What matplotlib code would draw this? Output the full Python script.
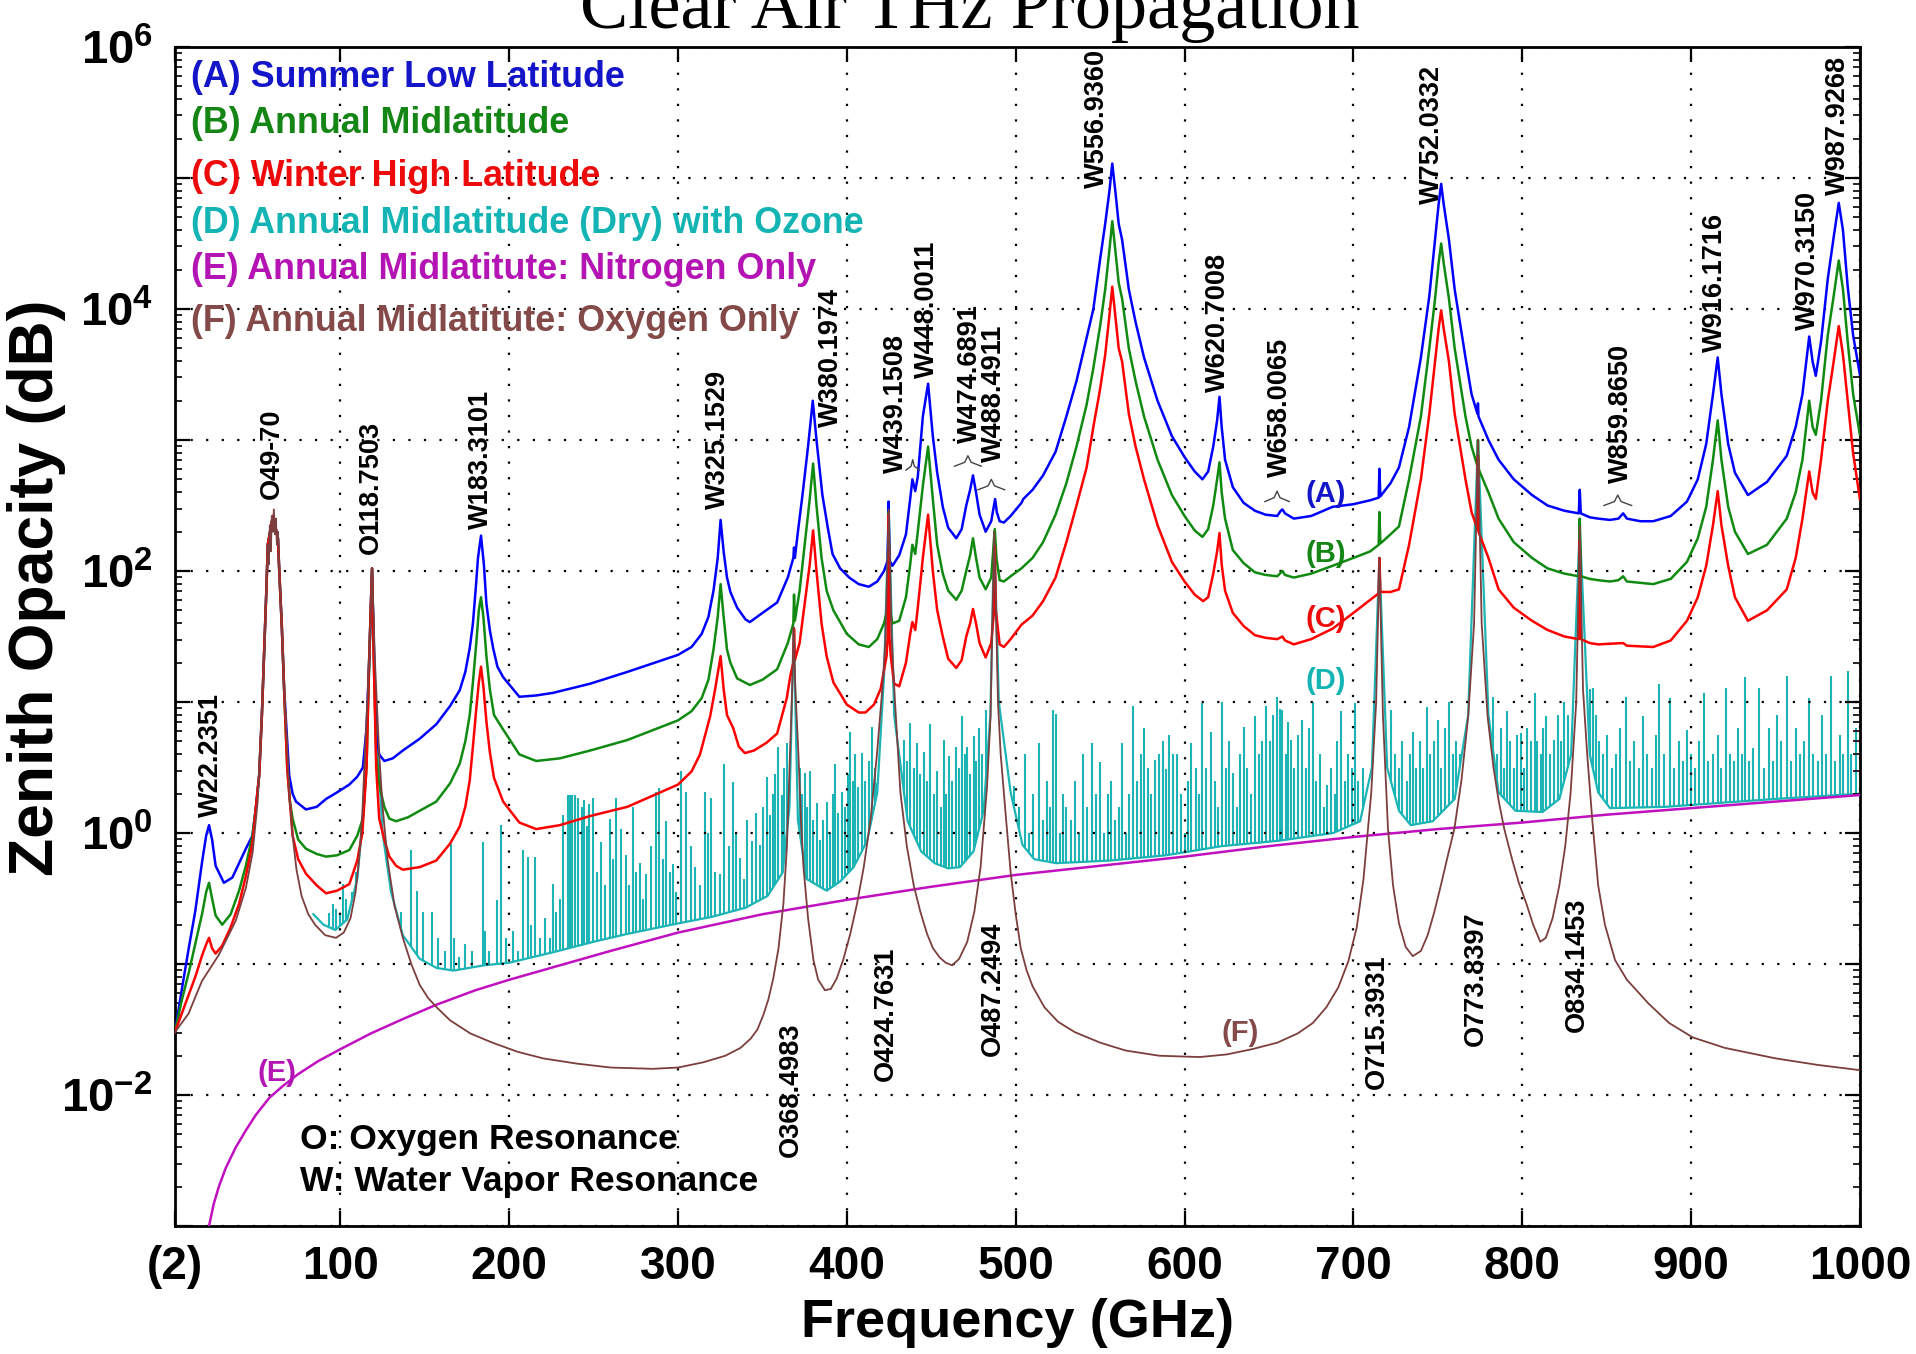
import numpy as np
import matplotlib
matplotlib.use('Agg')
import matplotlib.pyplot as plt
from matplotlib.ticker import FixedLocator, LogLocator, NullFormatter, FuncFormatter

plt.rcParams['font.family'] = ['Liberation Sans', 'DejaVu Sans']
plt.rcParams['mathtext.fontset'] = 'custom'
plt.rcParams['mathtext.rm'] = 'Liberation Sans:bold'
plt.rcParams['mathtext.bf'] = 'Liberation Sans:bold'
plt.rcParams['mathtext.it'] = 'Liberation Sans:bold'

# (frequency GHz, log10 zenith opacity dB)
curve_a = [(2,-1.52),(6,-1.2),(10.3,-0.87),(14,-0.6),(18.2,-0.21),(20.5,-0.02),(22.2,0.06),(24,-0.05),(26.1,-0.25),(31,-0.38),(36,-0.34),(40,-0.23),(44,-0.12),(47.9,-0.02),(50,0.2),(51.9,0.44),(53.5,0.9),(54.9,1.41),(56.2,1.87),(57,2.2),(60,2.42),(63,2.25),(63.8,2.0),(65.3,1.58),(66.7,1.09),(68.5,0.7),(69.7,0.44),(71.7,0.30),(73.7,0.24),(79.6,0.18),(86,0.2),(91.5,0.26),(98,0.31),(105.3,0.37),(110,0.43),(113.3,0.5),(115.5,0.8),(117,1.3),(118.75,2.02),(120,1.3),(121.2,0.76),(123,0.6),(126,0.55),(131,0.57),(137,0.63),(147,0.72),(156.8,0.83),(165,0.97),(170.7,1.09),(174,1.23),(176.6,1.41),(178.5,1.6),(180.2,1.87),(181.5,2.1),(183.3,2.27),(185,2.05),(186.5,1.75),(188.5,1.55),(190.5,1.41),(193,1.27),(196.4,1.19),(206,1.04),(216,1.05),(226,1.07),(248,1.14),(270,1.23),(300,1.36),(308,1.42),(314,1.52),(318,1.65),(321,1.85),(323.5,2.1),(325.2,2.39),(327,2.15),(329,1.95),(331,1.84),(335,1.72),(340,1.63),(342.5,1.61),(350,1.68),(358.7,1.76),(365,1.95),(368.3,2.1),(368.7,2.18),(369.2,2.1),(371,2.3),(373.7,2.58),(377,2.95),(379.8,3.3),(382,3.0),(385.5,2.58),(388.7,2.33),(391.5,2.13),(396,2.02),(401.4,1.95),(407,1.9),(413,1.88),(418,1.92),(422,2.0),(424.2,2.08),(424.7,2.53),(425.2,2.08),(427,2.04),(431,2.12),(435,2.28),(437.5,2.55),(438.8,2.7),(440.5,2.61),(442,2.72),(445,3.18),(448.1,3.43),(450.9,3.03),(453.5,2.75),(456.8,2.49),(460,2.33),(464.8,2.25),(468,2.32),(470.7,2.5),(473,2.62),(474.7,2.73),(476.5,2.6),(478.6,2.43),(482.2,2.3),(485.5,2.38),(487.8,2.55),(488.8,2.45),(490.5,2.38),(493,2.37),(497,2.42),(503.4,2.52),(504.5,2.55),(510,2.62),(516.2,2.73),(523.6,2.91),(530,3.18),(536,3.45),(542,3.78),(546,4.0),(550,4.38),(553,4.65),(555.5,4.9),(557.2,5.11),(559,4.9),(561,4.65),(563,4.53),(567,4.15),(571,3.9),(576,3.63),(584,3.3),(592.5,3.03),(600,2.87),(606,2.76),(610.6,2.7),(614,2.76),(617,2.95),(619.3,3.15),(620.7,3.33),(622,3.1),(624,2.85),(628.6,2.64),(635,2.52),(641.7,2.46),(648,2.43),(654.9,2.42),(657,2.46),(658,2.47),(659.5,2.44),(664.7,2.4),(675,2.42),(687.7,2.49),(700,2.51),(710,2.54),(715,2.56),(715.4,2.78),(716,2.57),(722,2.67),(727,2.79),(733,3.1),(740,3.63),(745,4.1),(748.4,4.53),(750.5,4.8),(752,4.955),(753.5,4.8),(756.6,4.53),(760,4.15),(766.4,3.63),(770,3.35),(773.5,3.2),(773.8,3.28),(774.1,3.18),(780,3.0),(786,2.85),(795,2.7),(805.8,2.58),(815,2.5),(825,2.46),(833.5,2.44),(834.1,2.62),(834.7,2.44),(840,2.41),(845,2.4),(852,2.39),(857,2.4),(859.8,2.44),(862,2.4),(870,2.38),(877.6,2.38),(888,2.42),(897.6,2.53),(904,2.7),(909,2.97),(913,3.35),(915.8,3.63),(918,3.35),(922,2.97),(926,2.75),(933.7,2.58),(945,2.68),(956.7,2.88),(962,3.1),(966,3.35),(970,3.79),(972,3.6),(973.9,3.49),(977,3.75),(981,4.23),(984.5,4.55),(987.5,4.81),(990,4.6),(992.8,4.17),(996,3.8),(1000,3.5)]

curve_b = [(2,-1.52),(6,-1.28),(10.3,-1.06),(14,-0.85),(18.2,-0.61),(20.5,-0.45),(22.2,-0.38),(24,-0.5),(26.1,-0.63),(30,-0.7),(35,-0.62),(40,-0.44),(44,-0.25),(47.9,-0.02),(50,0.2),(51.9,0.44),(53.5,0.9),(54.9,1.41),(56.2,1.87),(57,2.2),(60,2.42),(63,2.25),(63.8,2.0),(65.3,1.58),(66.7,1.09),(68.5,0.5),(70,0.25),(71.7,0.11),(75,-0.05),(79.6,-0.12),(86,-0.16),(91.5,-0.18),(98,-0.17),(105.3,-0.13),(110,-0.02),(113.3,0.11),(115.5,0.5),(117,1.3),(118.75,2.02),(120,1.2),(121.2,0.6),(123,0.37),(126,0.2),(129,0.11),(133,0.09),(140,0.12),(156.8,0.24),(165,0.38),(170.7,0.53),(174,0.7),(176.6,0.9),(178.5,1.15),(180.5,1.45),(182,1.7),(183.3,1.8),(184.7,1.65),(186.5,1.35),(188.5,1.1),(191,0.9),(196.4,0.79),(206,0.6),(216,0.55),(230,0.57),(248,0.63),(270,0.71),(300,0.86),(308,0.93),(314,1.03),(318,1.17),(321,1.4),(323.5,1.65),(325.2,1.9),(327,1.65),(329,1.4),(331,1.3),(335,1.18),(342.5,1.13),(350,1.17),(358.7,1.25),(365,1.45),(368.3,1.6),(368.7,1.82),(369.2,1.62),(372,1.85),(375,2.2),(378,2.55),(380,2.82),(382,2.5),(385,2.1),(388,1.85),(392,1.7),(400,1.52),(407,1.44),(413,1.42),(418,1.48),(422,1.6),(424.2,1.72),(424.7,2.45),(425.2,1.72),(427,1.6),(431,1.62),(435,1.8),(437.5,2.05),(438.8,2.2),(440.5,2.13),(442,2.3),(445,2.65),(448.1,2.95),(450.9,2.55),(453.5,2.2),(456.8,1.98),(460,1.85),(464.8,1.78),(468,1.85),(470.7,2.0),(473,2.12),(474.7,2.25),(476.5,2.1),(478.6,1.95),(482.2,1.86),(485.5,1.95),(487.6,2.32),(488.6,2.1),(490.5,1.93),(493,1.92),(497,1.96),(503.4,2.02),(510,2.1),(516.2,2.22),(523.6,2.43),(530,2.67),(536,2.95),(542,3.27),(546,3.55),(550,3.87),(553,4.15),(555.5,4.45),(557.2,4.67),(559,4.45),(561,4.2),(563,4.08),(567,3.7),(571,3.45),(576,3.18),(584,2.85),(592.5,2.58),(600,2.42),(606,2.31),(610.6,2.26),(614,2.32),(617,2.5),(619.3,2.7),(620.7,2.83),(622,2.6),(624,2.4),(628.6,2.16),(635,2.06),(641.7,1.99),(648,1.97),(654.9,1.96),(658,2.0),(659.5,1.97),(664.7,1.95),(675,1.98),(687.7,2.04),(700,2.1),(710,2.15),(715,2.2),(715.4,2.45),(716,2.21),(722,2.28),(727,2.34),(733,2.7),(740,3.18),(745,3.7),(748.4,4.08),(750.5,4.35),(752,4.5),(753.5,4.35),(756.6,4.08),(760,3.7),(766.4,3.18),(770,2.95),(773.5,2.8),(773.8,3.0),(774.1,2.78),(780,2.6),(786,2.4),(795,2.22),(805.8,2.1),(815,2.02),(825,1.98),(833.5,1.96),(834.1,2.4),(834.7,1.96),(840,1.94),(845,1.93),(852,1.92),(857,1.93),(859.8,1.96),(862,1.92),(877.6,1.9),(888,1.94),(897.6,2.07),(904,2.25),(909,2.49),(913,2.85),(915.8,3.15),(918,2.85),(922,2.49),(926,2.3),(933.7,2.13),(945,2.2),(956.7,2.4),(962,2.6),(966,2.85),(970,3.3),(972,3.1),(973.9,3.04),(977,3.3),(981,3.8),(984.5,4.1),(987.5,4.37),(990,4.15),(992.8,3.75),(996,3.35),(1000,3.04)]

curve_c = [(2,-1.52),(6,-1.38),(10.3,-1.23),(14,-1.1),(18.2,-0.93),(20.5,-0.85),(22.2,-0.8),(24,-0.88),(26.1,-0.92),(30,-0.86),(35,-0.72),(40,-0.54),(44,-0.33),(47.9,-0.08),(50,0.2),(51.9,0.44),(53.5,0.9),(54.9,1.41),(56.2,1.87),(57,2.2),(60,2.42),(63,2.25),(63.8,2.0),(65.3,1.58),(66.7,1.09),(68.5,0.5),(71.7,-0.02),(75,-0.2),(79.6,-0.31),(86,-0.4),(91.5,-0.46),(98,-0.44),(105.3,-0.39),(110,-0.21),(113,0.0),(115.5,0.5),(117,1.3),(118.75,2.02),(120,1.2),(121.2,0.5),(123,0.11),(126,-0.05),(129,-0.18),(133,-0.25),(137,-0.28),(147,-0.26),(156.8,-0.21),(165,-0.08),(170.7,0.05),(174,0.2),(176.6,0.4),(178.5,0.66),(180.5,0.95),(182,1.15),(183.3,1.27),(184.7,1.12),(186.5,0.85),(188.5,0.62),(191,0.42),(196.4,0.24),(206,0.08),(216,0.03),(230,0.06),(248,0.13),(270,0.2),(300,0.37),(308,0.47),(313,0.6),(319,0.89),(322,1.1),(325.2,1.35),(327,1.1),(329,0.9),(332.7,0.8),(336,0.66),(339.6,0.61),(345,0.63),(352.5,0.69),(358.7,0.76),(364.4,1.03),(366.5,1.2),(368.3,1.3),(368.7,1.56),(369.2,1.32),(372,1.45),(375,1.75),(378,2.05),(380,2.31),(382,2.0),(385,1.6),(388,1.35),(392,1.15),(400,0.98),(407,0.92),(411,0.92),(416,0.98),(420,1.1),(423.5,1.35),(424.2,1.5),(424.7,2.43),(425.2,1.5),(426,1.35),(428,1.14),(431,1.12),(435,1.3),(437.5,1.52),(438.8,1.61),(440.5,1.55),(442,1.72),(445,2.1),(448.1,2.43),(450.9,2.0),(453.5,1.7),(456.8,1.5),(460,1.33),(464.8,1.26),(468,1.32),(470.7,1.5),(473,1.6),(474.7,1.71),(476.5,1.6),(478.6,1.45),(482.2,1.34),(485.5,1.45),(487.2,1.7),(487.6,2.19),(488.2,1.7),(490.5,1.44),(493,1.42),(497,1.48),(503.4,1.59),(510,1.66),(516.2,1.77),(523.6,1.95),(530,2.22),(536,2.5),(542,2.79),(546,3.1),(550,3.39),(553,3.65),(555.5,3.95),(557.2,4.17),(559,3.95),(561,3.7),(563,3.6),(567,3.2),(571,2.95),(576,2.7),(584,2.35),(592.5,2.07),(600,1.92),(606,1.82),(611,1.77),(614,1.8),(617,1.98),(619.3,2.15),(620.7,2.29),(622,2.05),(624,1.85),(628.6,1.68),(635,1.58),(641.7,1.51),(648,1.49),(654.9,1.48),(658,1.5),(659.5,1.47),(664.7,1.44),(675,1.48),(687.7,1.56),(700,1.68),(710,1.78),(715,1.83),(715.4,2.1),(716,1.84),(722,1.84),(727,1.86),(733,2.2),(740,2.7),(745,3.2),(748.4,3.6),(750.5,3.85),(752,3.99),(753.5,3.85),(756.6,3.6),(760,3.2),(766.4,2.7),(770,2.45),(773.5,2.32),(773.8,2.88),(774.1,2.3),(780,2.1),(786,1.86),(795,1.72),(805.8,1.62),(815,1.55),(825,1.5),(833.5,1.48),(834.1,2.23),(834.7,1.48),(840,1.45),(845,1.44),(859.8,1.45),(862,1.43),(877.6,1.42),(888,1.47),(897.6,1.62),(904,1.8),(909,2.04),(913,2.35),(915.8,2.61),(918,2.35),(922,2.04),(926,1.8),(933.7,1.62),(945,1.7),(956.7,1.86),(962,2.1),(966,2.4),(970,2.76),(972,2.6),(973.9,2.55),(977,2.85),(981,3.3),(984.5,3.6),(987.5,3.87),(990,3.65),(992.8,3.3),(996,2.9),(1000,2.55)]

# (D) dry continuum floor and its line tops
d_floor = [(84,-0.62),(90,-0.7),(97,-0.74),(104,-0.66),(110,-0.35),(114,0.2),(117,1.2),(118.75,2.0),(121,0.9),(125,0.0),(130,-0.45),(137,-0.78),(147,-0.96),(157,-1.03),(167,-1.05),(185,-1.01),(200,-0.99),(226,-0.91),(250,-0.83),(270,-0.77),(300,-0.69),(320,-0.64),(340,-0.57),(353,-0.48),(362,-0.3),(366,0.2),(368.5,1.57),(371,0.1),(376,-0.35),(388,-0.44),(396,-0.37),(404,-0.26),(412,-0.06),(418,0.31),(422,1.2),(424.8,2.47),(428,0.9),(436,0.09),(444,-0.14),(452,-0.23),(460,-0.27),(467,-0.26),(475,-0.14),(481,0.17),(485,0.9),(487.25,2.3),(490,1.0),(497,0.31),(504,-0.09),(511,-0.2),(524,-0.23),(556,-0.21),(589,-0.17),(622,-0.1),(655,-0.06),(688,0.0),(704,0.09),(711,0.5),(715.4,2.1),(720,0.5),(727,0.17),(734,0.06),(747,0.09),(760,0.26),(768,0.9),(773.8,3.0),(780,0.9),(786,0.31),(796,0.17),(812,0.16),(822,0.26),(829,0.6),(834.1,2.34),(840,0.6),(845,0.31),(852,0.19),(885,0.2),(917,0.23),(950,0.26),(1000,0.3)]

d_lines = [(93.5,-0.61),(95.4,-0.54),(97.4,-0.58),(99.5,-0.62),(101.4,-0.39),(103.4,-0.5),(107,-0.45),(109,-0.3),(111.3,-0.12),
    (136,-0.6),(142,-0.13),(145.3,-0.44),(149,-0.6),(154,-0.6),(158,-0.8),(162,-0.9),(165.7,-0.08),(167,-0.8),(170,-0.95),(174,-0.85),(178,-0.9),(184.2,-0.07),(185.5,-0.75),(188,-0.9),(192.5,-0.51),(195.4,0.06),(198,-0.8),(202.4,-0.75),(205,-0.9),(208.3,-0.13),(211.3,-0.18),(213,-0.7),(215.2,-0.18),(218,-0.8),(221,-0.65),(224,-0.8),(226,-0.39),(228,-0.6),(230,-0.5),(232,0.14),(235,0.29),(236.2,0.29),(237.4,0.29),(239,0.29),(241,0.27),(243,0.2),(244.5,0.25),(246,0.05),(247.5,0.22),(249.5,0.27),
    (252,-0.3),(254.5,-0.07),(257,-0.4),(259.4,0.11),(261.5,-0.2),(263.4,0.27),(266.3,0.03),(269.3,-0.17),(271,-0.4),(273.3,0.2),(275,-0.3),(277.2,-0.23),(279,-0.5),(281.2,-0.31),(284,-0.1),(287.1,0.31),(289,0.34),(291,-0.2),(293,0.09),(295,-0.3),(297,-0.24),(299,-0.45),(302,0.47),(305,0.31),(307.5,-0.1),(310,-0.26),(313,-0.4),(315.8,0.31),(317.5,0.0),(319.8,0.27),(322,-0.3),(324.8,-0.31),(327.1,0.53),(330,-0.1),(332.7,0.39),(334.5,0.0),(336.6,-0.19),(339,-0.35),(341,0.1),(343.6,-0.06),(346,0.15),(348.5,-0.09),(350.5,0.2),(352.5,0.43),(354.5,0.14),(356,0.3),(357.5,0.45),(359.4,0.66),(361.4,0.29),(362.5,0.5),(364.4,0.69),(366.3,0.54),
    (372.3,0.5),(373.5,0.3),(375.2,0.46),(376.5,0.2),(378.2,0.47),(380,0.1),(382.2,0.23),(384,-0.05),(386,0.1),(388.1,0.24),(390,0.0),(391.5,0.3),(393,0.53),(395,0.15),(397,0.31),(399,0.2),(400.5,0.45),(402,0.77),(403.5,0.4),(405,0.6),(406.5,0.35),(409,0.61),(411,0.4),(413,0.55),(414.9,0.81),(416.5,0.5),(417.8,0.38),(419.5,0.6),(421,0.75),
    (429.7,0.78),(431.5,0.5),(433.7,0.71),(435.5,0.55),(437.6,0.84),(439.5,0.5),(441.6,0.69),(443.5,0.45),(445.5,0.62),(447.5,0.4),(449.5,0.83),(451.5,0.3),(453.5,0.47),(455.5,0.2),(457.4,0.71),(459,0.3),(460.4,0.59),(462.5,0.4),(464.4,0.66),(466.3,0.5),(468.3,0.89),(470,0.6),(471.3,0.66),(473,0.45),(475.2,0.74),(476.7,0.55),(478.2,0.8),(480,0.6),(482.2,0.94),(484,0.7),
    (494,0.6),(496,0.4),(499,0.36),(502,0.2),(505.6,0.6),(508,0.0),(510.5,0.3),(513.8,0.69),(516,0.1),(518.5,0.4),(520.5,0.2),(522,0.94),(523.6,0.91),(526,0.0),(528,0.3),(530,0.2),(532.5,0.1),(535,0.4),(537.5,0.0),(540,0.6),(542.5,0.2),(545,0.69),(547.5,0.3),(550,0.54),(552.5,0.0),(554.5,0.3),(556.4,0.4),(559,0.1),(561,0.2),(563,0.69),(565.5,0.0),(567,0.3),(569.6,0.97),(572,0.4),(574,0.6),(576,0.8),(578.5,0.5),(580,0.3),(582.7,0.56),(585,0.6),(587,0.7),(589.2,0.49),(591,0.75),(593,0.6),(595.8,0.6),(598,0.3),(600.5,0.0),(602,0.4),(604,0.69),(606.5,0.5),(608.5,0.3),(610.6,0.99),(613,0.5),(615.5,0.77),(618,0.4),(620,0.2),(622,1.0),(624.5,0.5),(626.5,0.7),(628.6,0.46),(631,0.2),(633,0.6),(635,0.81),(637,0.5),(639.5,0.3),(641.7,0.89),(644,0.6),(646,0.7),(648.3,0.97),(650.5,0.7),(652.5,0.9),(654.9,1.04),(656.5,0.95),(658,0.94),(660,0.6),(661.5,0.85),(663,0.71),(665,0.5),(667,0.75),(669.6,0.86),(672,0.5),(674,0.8),(676,1.0),(678,0.4),(680.5,0.6),(682.5,0.2),(684.4,0.37),(687,0.5),(689,0.3),(690.5,0.7),(692.6,0.93),(695,0.4),(697,0.6),(699,0.5),(700.8,0.99),(703,0.4),(706,0.5),
    (722,0.94),(724.5,0.6),(727,0.5),(729,0.7),(731.5,0.4),(733.5,0.6),(735.2,0.77),(737,0.5),(739.5,0.7),(741.5,0.5),(743.4,0.96),(745.5,0.6),(748,0.7),(750,0.86),(752,0.5),(754.5,0.8),(756.6,1.0),(759,0.6),(761,0.7),(763,0.6),(765,0.5),
    (781,0.7),(782.8,1.04),(785,0.6),(787.5,0.8),(789,0.5),(791,0.93),(793,0.7),(795,0.5),(797,0.75),(799,0.76),(801,0.5),(803,0.8),(805.5,0.7),(807.4,1.07),(809,0.7),(811,0.6),(812.5,0.8),(814,0.89),(816.5,0.6),(819,0.71),(821,0.9),(823,0.7),(825,1.0),(827,0.9),
    (836.5,1.1),(837.5,1.12),(838.6,1.14),(840,1.1),(841.9,1.11),(843.5,0.9),(845.5,0.7),(848,0.6),(850,0.75),(853,0.5),(855.5,0.6),(858,0.8),(861.5,1.04),(864,0.55),(866.5,0.7),(869,0.5),(871.4,0.89),(874,0.6),(877,0.5),(879,0.75),(881.2,1.14),(884,0.6),(887.8,1.03),(890,0.5),(893,0.7),(895,0.55),(897.6,0.79),(900,0.6),(902.5,0.5),(905,0.7),(907.5,1.07),(910,0.55),(913,0.6),(916,0.75),(918,0.5),(920.6,1.11),(923,0.6),(925.5,0.55),(928,0.8),(930,0.6),(932,1.19),(934.5,0.55),(937,0.65),(940.3,1.11),(943,0.5),(946,0.8),(948.5,0.55),(951,0.9),(953,0.7),(956.7,1.2),(959,0.55),(962,0.8),(964.5,0.6),(967,0.7),(969.8,1.03),(972,0.6),(975,0.55),(977.5,0.9),(980,0.6),(983,1.2),(985,0.55),(988,0.75),(990,0.6),(992.8,1.24),(995,0.6),(998,0.8)]

curve_e = [(22.2,-3.0),(25,-2.83),(28,-2.7),(32,-2.56),(38,-2.4),(44,-2.27),(50,-2.15),(58,-2.02),(66,-1.93),(75,-1.84),(87,-1.74),(100,-1.65),(118,-1.53),(137,-1.42),(157,-1.31),(180,-1.2),(200,-1.12),(230,-1.01),(260,-0.9),(300,-0.76),(350,-0.62),(400,-0.51),(450,-0.41),(500,-0.32),(550,-0.25),(600,-0.18),(650,-0.1),(700,-0.03),(750,0.03),(800,0.08),(850,0.14),(900,0.19),(950,0.24),(1000,0.29)]

curve_f = [(2,-1.52),(10,-1.38),(18,-1.13),(28,-0.93),(38,-0.67),(44,-0.42),(48,-0.15),(51,0.24),(53,0.76),(55,1.41),(56.2,1.87),(57,2.2),(57.6,2.05),(58.2,2.35),(58.8,2.15),(59.4,2.42),(60,2.3),(60.6,2.47),(61.2,2.28),(61.8,2.4),(62.4,2.2),(63,2.3),(63.8,2.0),(65.3,1.58),(66.7,1.09),(68.7,0.6),(70,0.25),(71.7,-0.02),(74,-0.28),(77,-0.48),(81,-0.62),(85,-0.7),(91,-0.78),(97.4,-0.8),(102,-0.76),(106,-0.65),(109,-0.45),(111,-0.21),(113,0.15),(114.5,0.6),(117,1.3),(118.75,2.02),(120.5,1.3),(123,0.6),(125,0.2),(128,-0.21),(132,-0.55),(137,-0.8),(142,-1.0),(147,-1.16),(152,-1.26),(157,-1.33),(165,-1.43),(177,-1.53),(190,-1.6),(205,-1.67),(220,-1.72),(240,-1.76),(260,-1.79),(285,-1.8),(300,-1.79),(315,-1.75),(328,-1.7),(337,-1.64),(343,-1.57),(347,-1.5),(350.5,-1.39),(353.5,-1.27),(356.4,-1.11),(359.5,-0.88),(362.4,-0.54),(364.5,-0.1),(366.3,0.6),(367.6,1.1),(368.5,1.57),(369.5,1.1),(371.3,0.6),(372.8,0.1),(374.3,-0.26),(377,-0.65),(380.2,-0.97),(383,-1.12),(387,-1.2),(390.5,-1.19),(394,-1.11),(398,-0.96),(402,-0.77),(406,-0.54),(410,-0.26),(414,0.1),(417.8,0.6),(421,1.1),(422.8,1.46),(424.8,2.47),(426.5,1.5),(428.5,1.0),(431.7,0.31),(435.5,-0.1),(439.6,-0.4),(443.5,-0.6),(447.5,-0.77),(451,-0.88),(455,-0.95),(458.5,-0.99),(462.4,-1.01),(466.5,-0.96),(471.3,-0.83),(475.5,-0.6),(479.2,-0.26),(483,0.35),(485.1,0.89),(487.25,2.3),(489.5,1.0),(491.1,0.6),(494,0.15),(497,-0.3),(500,-0.62),(503,-0.88),(506.5,-1.05),(510,-1.17),(517,-1.33),(525,-1.44),(535,-1.52),(550,-1.6),(565,-1.66),(585,-1.7),(609,-1.71),(625,-1.69),(640,-1.65),(655,-1.6),(667,-1.53),(676,-1.45),(684,-1.33),(691,-1.18),(697,-0.98),(702,-0.72),(706,-0.35),(710.6,0.31),(713.5,1.0),(715.4,2.1),(717.5,0.9),(720.5,0.03),(723.5,-0.4),(727,-0.69),(731,-0.87),(735.2,-0.94),(740,-0.9),(744,-0.78),(748,-0.6),(752,-0.39),(756,-0.17),(759.8,0.03),(764,0.4),(768,0.89),(771.5,1.6),(773.8,3.0),(776,1.6),(779.5,0.89),(783,0.5),(786,0.25),(789.4,0.03),(794,-0.2),(798,-0.38),(802.5,-0.54),(806.5,-0.7),(810.7,-0.83),(814,-0.8),(818,-0.65),(822,-0.4),(825.5,-0.1),(828.7,0.31),(832,1.0),(834.1,2.34),(836,1.1),(838.5,0.6),(841.5,0.1),(845,-0.4),(849,-0.7),(855,-0.97),(862,-1.12),(874.7,-1.3),(887,-1.45),(901,-1.56),(920,-1.64),(950,-1.72),(975,-1.77),(1000,-1.81)]

# resonance tags above the curves: text, freq, log10 of the text's lower end
up_tags = ['W22.2351', 'O49-70', 'O118.7503', 'W183.3101', 'W325.1529', 'W380.1974',
           'W439.1508', 'W448.0011', 'W474.6891', 'W488.4911', 'W556.9360', 'W620.7008',
           'W658.0065', 'W752.0332', 'W859.8650', 'W916.1716', 'W970.3150', 'W987.9268']
up_tag_f = [23.1, 59.3, 118.1, 183.3, 323.8, 390.3, 429.3, 447.5, 473.0, 487.2, 548.0, 620.0,
            656.8, 746.5, 858.3, 913.9, 969.0, 987.0]
up_tag_log = [0.12, 2.55, 2.13, 2.32, 2.47, 3.1, 2.75, 3.47, 2.98, 2.83, 4.92, 3.37,
              2.72, 4.8, 2.67, 3.67, 3.84, 4.87]
# oxygen tags hanging below the lines: text, freq, log10 of the text's upper end
down_tags = ['O368.4983', 'O424.7631', 'O487.2494', 'O715.3931', 'O773.8397', 'O834.1453']
down_tag_f = [366.8, 423.3, 486.2, 714.0, 772.7, 832.2]
down_tag_log = [-1.45, -0.87, -0.68, -0.93, -0.6, -0.49]
# small braces grouping close lines: start freq, end freq, log10 level
brace_f0 = [435.0, 463.8, 477.6, 647.6, 848.4]
brace_f1 = [443.0, 479.6, 493.5, 662.0, 864.8]
brace_log = [2.8, 2.83, 2.65, 2.56, 2.53]

legend_text = ['(A) Summer Low Latitude', '(B) Annual Midlatitude', '(C) Winter High Latitude',
               '(D) Annual Midlatitude (Dry) with Ozone', '(E) Annual Midlatitute: Nitrogen Only',
               '(F) Annual Midlatitute: Oxygen Only']
legend_log = [5.77, 5.415, 5.01, 4.65, 4.3, 3.905]
legend_color = ['#1414c8', '#158515', '#ee0a0a', '#14b4b4', '#b414b4', '#844a4a']
line_color = ['#0000ff', '#108a10', '#ff0000', '#1cb4b4', '#c010c0', '#7c3e3e']
tag_names = ['(A)', '(B)', '(C)', '(D)', '(E)', '(F)']
tag_f = [683.5, 683.5, 683.5, 683.5, 62.3, 633.0]
tag_log = [2.59, 2.13, 1.63, 1.16, -1.83, -1.53]

x_ticks = [2, 100, 200, 300, 400, 500, 600, 700, 800, 900, 1000]
x_tick_labels = ['(2)', '100', '200', '300', '400', '500', '600', '700', '800', '900', '1000']


def pts(curve):
    a = np.array(curve, dtype=float)
    return a[:, 0], 10 ** a[:, 1]


fig = plt.figure(figsize=(19.16, 13.54), dpi=100)
ax = fig.add_axes([0.0913, 0.0945, 0.8794, 0.8708])
ax.set_yscale('log')
ax.set_xlim(2, 1000)
ax.set_ylim(1e-3, 1e6)

# dry spectrum: lines first, then white below the continuum so they sit on it
df, dv = pts(d_lines)
ax.vlines(df, 1e-3, dv, color=line_color[3], lw=1.5, zorder=1.2)
ff, fv = pts(d_floor)
ax.fill_between(ff, 1e-4, fv, color='white', lw=0, zorder=1.3)
ax.plot(ff, fv, color=line_color[3], lw=1.6, zorder=1.4)

for curve, col, z in [(curve_a, line_color[0], 3.0), (curve_b, line_color[1], 3.05),
                      (curve_c, line_color[2], 3.1), (curve_e, line_color[4], 3.15),
                      (curve_f, line_color[5], 3.2)]:
    x, y = pts(curve)
    lw = 1.3 if col == line_color[5] else 1.8
    ax.plot(x, y, color=col, lw=lw, zorder=z)

ax.set_axisbelow(False)
ax.grid(True, which='major', color='black', linestyle=(0, (1, 6)), linewidth=1.6)
ax.xaxis.set_major_locator(FixedLocator(x_ticks))
ax.set_xticklabels(x_tick_labels)
ax.yaxis.set_major_locator(FixedLocator([10.0 ** k for k in range(-3, 7)]))
ax.yaxis.set_minor_locator(LogLocator(base=10, subs=np.arange(2, 10), numticks=20))
ax.yaxis.set_minor_formatter(NullFormatter())
ax.yaxis.set_major_formatter(FuncFormatter(
    lambda v, p: (r'$10^{%d}$' % round(np.log10(v))) if round(np.log10(v)) % 2 == 0 else ''))
ax.tick_params(which='both', direction='in', top=True, right=True)
ax.tick_params(which='major', length=11, width=1.6)
ax.tick_params(which='minor', length=5, width=1.2)
ax.tick_params(axis='x', labelsize=33, pad=14)
ax.tick_params(axis='y', labelsize=34, pad=16)
for lab in ax.get_xticklabels():
    lab.set_fontweight('bold')
for s in ax.spines.values():
    s.set_linewidth(2.0)

for t, f, lg in zip(up_tags, up_tag_f, up_tag_log):
    ax.text(f, 10 ** lg, t, rotation=90, ha='center', va='bottom', fontsize=19.5,
            fontweight='bold', zorder=5)
for t, f, lg in zip(down_tags, down_tag_f, down_tag_log):
    ax.text(f, 10 ** lg, t, rotation=90, ha='center', va='top', fontsize=19.5,
            fontweight='bold', zorder=5)
for f0, f1, lg in zip(brace_f0, brace_f1, brace_log):
    fm = (f0 + f1) / 2
    w = (f1 - f0) * 0.12
    ax.plot([f0, fm - w, fm, fm + w, f1],
            10 ** np.array([lg - 0.03, lg, lg + 0.05, lg, lg - 0.03]),
            color='#444444', lw=1.0, zorder=5)

for t, lg, col in zip(legend_text, legend_log, legend_color):
    ax.text(11.5, 10 ** lg, t, color=col, fontsize=25.8, fontweight='bold',
            ha='left', va='center', zorder=6)
for t, f, lg, col in zip(tag_names, tag_f, tag_log, legend_color):
    ax.text(f, 10 ** lg, t, color=col, fontsize=21, fontweight='bold',
            ha='center', va='center', zorder=6)

ax.text(76, 10 ** -2.34, 'O: Oxygen Resonance', fontsize=25.5, fontweight='bold',
        ha='left', va='center', zorder=6)
ax.text(76, 10 ** -2.66, 'W: Water Vapor Resonance', fontsize=25.5, fontweight='bold',
        ha='left', va='center', zorder=6)

fig.text(0.531, 0.023, 'Frequency (GHz)', fontsize=39, fontweight='bold',
         ha='center', va='center')
fig.text(0.0193, 0.566, 'Zenith Opacity (dB)', fontsize=45, fontweight='bold',
         rotation=90, ha='center', va='center')
fig.text(0.506, 0.979, 'Clear Air THz Propagation', fontsize=52,
         family=['Liberation Serif', 'DejaVu Serif'], ha='center', va='baseline')

fig.savefig('out.png', dpi=100)
